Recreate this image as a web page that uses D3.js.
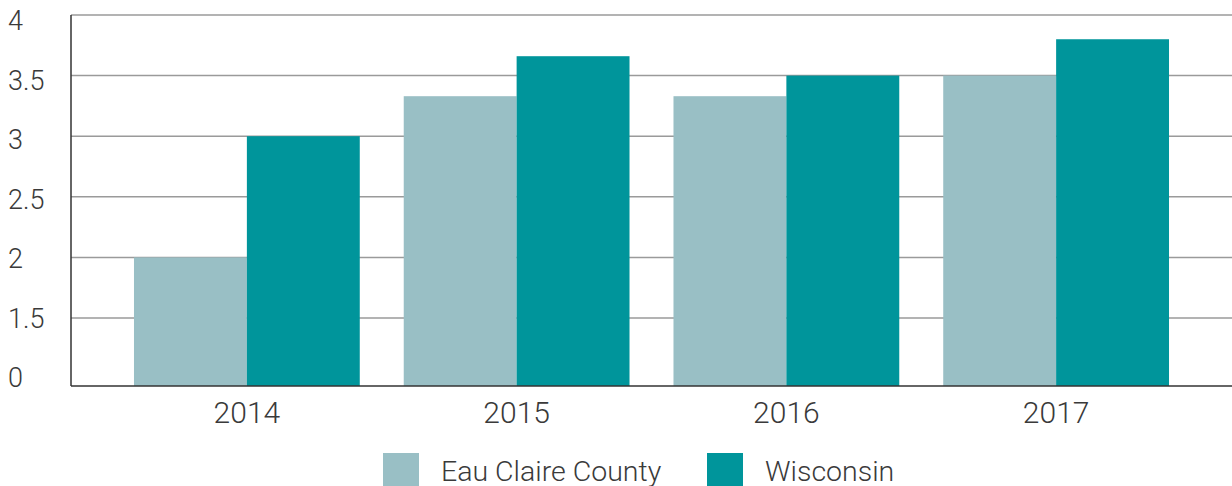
<!DOCTYPE html>
<html><head><meta charset="utf-8">
<script src="https://cdn.jsdelivr.net/npm/d3@7"></script>
<style>
html,body{margin:0;padding:0;background:#fff;}
svg{display:block;}
text{font-family:Roboto, "Open Sans", sans-serif;font-weight:300;fill:#3a3a3a;}
</style></head>
<body>
<svg id="c" width="1232" height="486"></svg>
<script>
(function(){
const years = ["2014","2015","2016","2017"];
const seriesNames = ["Eau Claire County","Wisconsin"];
const eauClaire = [2.0, 3.33, 3.33, 3.5];
const wisconsin = [3.0, 3.66, 3.5, 3.8];
const tickValues = [0, 1.5, 2, 2.5, 3, 3.5, 4];
const tickLabels = ["0","1.5","2","2.5","3","3.5","4"];
const colors = ["#99bfc5","#00959b"];

const svg = d3.select("#c");
const mLeft = 71, mRight = 1232, mTop = 15, mBottom = 386;

const y = d3.scaleLinear().domain([0, 1.5, 4]).range([mBottom, 318, mTop]);
const x = d3.scaleBand().domain(years).range([112, 1191]).paddingInner(0.163).paddingOuter(0.0815);
const xs = d3.scaleBand().domain(seriesNames).range([0, x.bandwidth()]);
const labelY = d3.scalePoint().domain(tickLabels.slice().reverse()).range([30, 387]);

svg.append("g").selectAll("line").data(tickValues.filter(v => v > 0)).join("line")
  .attr("x1", mLeft).attr("x2", mRight)
  .attr("y1", d => y(d)).attr("y2", d => y(d))
  .attr("stroke", "#9a9a9a").attr("stroke-width", 1.5);

const data = years.map((yr, i) => ({year: yr, vals: [eauClaire[i], wisconsin[i]]}));
const g = svg.append("g").selectAll("g").data(data).join("g")
  .attr("transform", d => `translate(${x(d.year)},0)`);
g.selectAll("rect").data(d => d.vals.map((v, j) => ({name: seriesNames[j], v, j}))).join("rect")
  .attr("x", d => xs(d.name)).attr("width", xs.bandwidth())
  .attr("y", d => y(d.v)).attr("height", d => y(0) - y(d.v))
  .attr("fill", d => colors[d.j]);

svg.append("line").attr("x1", mLeft).attr("x2", mLeft).attr("y1", mTop).attr("y2", mBottom)
  .attr("stroke", "#333").attr("stroke-width", 1.5);
svg.append("line").attr("x1", mLeft).attr("x2", mRight).attr("y1", mBottom).attr("y2", mBottom)
  .attr("stroke", "#333").attr("stroke-width", 1.5);

svg.append("g").selectAll("text").data(tickLabels).join("text")
  .attr("x", 8).attr("y", d => labelY(d))
  .attr("font-size", 27).text(d => d);

svg.append("g").selectAll("text").data(years).join("text")
  .attr("x", d => x(d) + x.bandwidth()/2).attr("y", 423)
  .attr("text-anchor", "middle").attr("font-size", 30).text(d => d);

const legX = [383, 707];
const lg = svg.append("g").selectAll("g").data(seriesNames).join("g")
  .attr("transform", (d, i) => `translate(${legX[i]},453)`);
lg.append("rect").attr("width", 36).attr("height", 33).attr("fill", (d, i) => colors[i]);
lg.append("text").attr("x", 58).attr("y", 28).attr("font-size", 28.5).text(d => d);
})();
</script>
</body></html>
